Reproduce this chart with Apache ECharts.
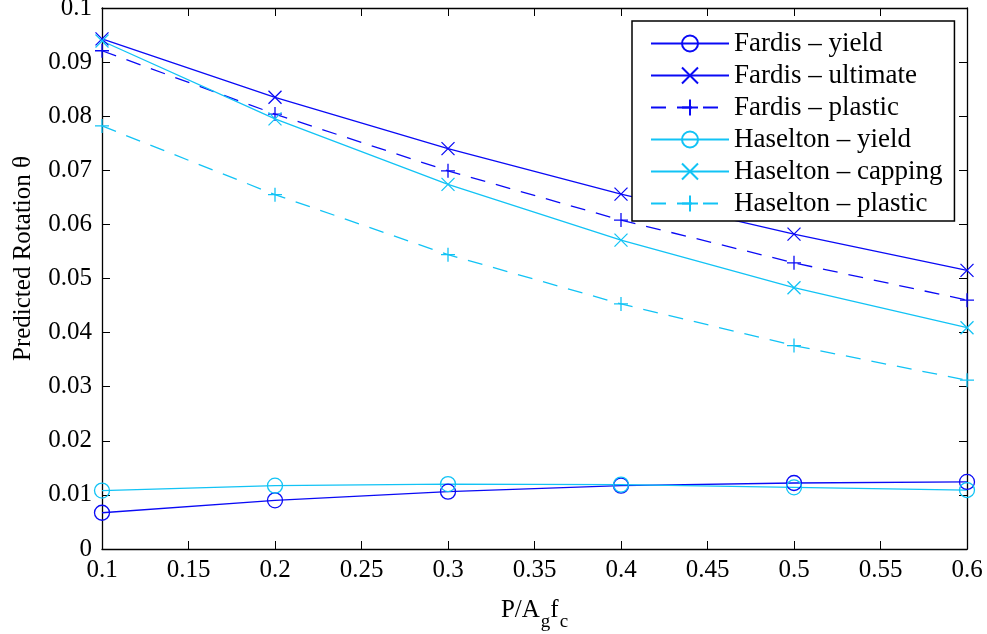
<!DOCTYPE html>
<html>
<head>
<meta charset="utf-8">
<script src="https://cdn.jsdelivr.net/npm/echarts@6/dist/echarts.min.js"></script>
<style>
  html, body { margin: 0; padding: 0; background: #fff; }
  #chart { width: 987px; height: 634px; }
</style>
</head>
<body>
<div id="chart"></div>
<script>
// axial load ratio P/(Ag fc)
const loadRatio = [0.1, 0.2, 0.3, 0.4, 0.5, 0.6];

// predicted rotations
const fardisYield    = [0.0067, 0.0090, 0.0106, 0.0117, 0.0122, 0.0124];
const fardisUltimate = [0.0943, 0.0835, 0.0740, 0.0656, 0.0582, 0.0515];
const fardisPlastic  = [0.0921, 0.0804, 0.0699, 0.0608, 0.0529, 0.0460];
const haseltonYield   = [0.0108, 0.0117, 0.0120, 0.0119, 0.0114, 0.0109];
const haseltonCapping = [0.0939, 0.0795, 0.0674, 0.0571, 0.0483, 0.0409];
const haseltonPlastic = [0.0782, 0.0655, 0.0544, 0.0453, 0.0376, 0.0312];

const FONT = '"Liberation Serif", "DejaVu Serif", serif';
const BLUE = '#0a0af5';
const CYAN = '#12c3f5';

const CROSS = 'path://M0,0L10,10M10,0L0,10';
const PLUS = 'path://M5,0L5,10M0,5L10,5';

function pairs(ys) {
    return loadRatio.map((x, i) => [x, ys[i]]);
}

function makeSeries(name, ys, color, symbol, size, dashed) {
    return {
        name: name,
        type: 'line',
        data: pairs(ys),
        symbol: symbol,
        symbolSize: size,
        showAllSymbol: true,
        lineStyle: { color: color, width: 1.3, type: dashed ? [15, 11] : 'solid' },
        itemStyle: { color: 'transparent', borderColor: color, borderWidth: 1.3 },
        emphasis: { disabled: true },
        animation: false,
        z: 3
    };
}

const fmt = v => String(parseFloat(v.toFixed(3)));

const tickStyle = { show: true, inside: true, length: 8, lineStyle: { color: '#000', width: 1 } };
const lineStyle = { show: true, onZero: false, lineStyle: { color: '#000', width: 1.3 } };

const chart = echarts.init(document.getElementById('chart'), null, { renderer: 'canvas' });

chart.setOption({
    animation: false,
    backgroundColor: '#fff',
    grid: { left: 102, right: 20, top: 8, bottom: 85, containLabel: false, outerBoundsMode: 'none' },
    xAxis: [{
        type: 'value', min: 0.1, max: 0.6, interval: 0.05,
        axisLine: lineStyle, axisTick: tickStyle, splitLine: { show: false },
        axisLabel: { formatter: fmt, color: '#000', fontFamily: FONT, fontSize: 25, margin: 9 },
        name: '{n|P/A}{s|g}{n|f}{s|c}',
        nameLocation: 'middle', nameGap: 40,
        nameTextStyle: {
            color: '#000', fontFamily: FONT, fontSize: 25,
            rich: {
                n: { fontFamily: FONT, fontSize: 25, color: '#000' },
                s: { fontFamily: FONT, fontSize: 19, color: '#000', padding: [24, 0, 0, 1] }
            }
        }
    }, {
        type: 'value', position: 'top', min: 0.1, max: 0.6, interval: 0.05,
        axisLine: lineStyle, axisTick: tickStyle, splitLine: { show: false },
        axisLabel: { show: false }
    }],
    yAxis: [{
        type: 'value', min: 0, max: 0.1, interval: 0.01,
        axisLine: lineStyle, axisTick: tickStyle, splitLine: { show: false },
        axisLabel: { formatter: fmt, color: '#000', fontFamily: FONT, fontSize: 25, margin: 10 },
        name: 'Predicted Rotation θ',
        nameLocation: 'middle', nameGap: 66, nameRotate: 90,
        nameTextStyle: { color: '#000', fontFamily: FONT, fontSize: 25, padding: [0, 0, 0, 40] }
    }, {
        type: 'value', position: 'right', min: 0, max: 0.1, interval: 0.01,
        axisLine: lineStyle, axisTick: tickStyle, splitLine: { show: false },
        axisLabel: { show: false }
    }],
    legend: {
        orient: 'vertical',
        left: 632, top: 21,
        padding: [9, 12, 4, 18],
        backgroundColor: '#fff',
        borderColor: '#000', borderWidth: 1.5,
        itemWidth: 78, itemHeight: 20, itemGap: 5,
        textStyle: { color: '#000', fontFamily: FONT, fontSize: 27, lineHeight: 20 },
        selectedMode: false,
        data: ['Fardis – yield', 'Fardis – ultimate', 'Fardis – plastic',
               'Haselton – yield', 'Haselton – capping', 'Haselton – plastic']
    },
    series: [
        makeSeries('Fardis – yield', fardisYield, BLUE, 'circle', 15, false),
        makeSeries('Fardis – ultimate', fardisUltimate, BLUE, CROSS, 13, false),
        makeSeries('Fardis – plastic', fardisPlastic, BLUE, PLUS, 14, true),
        makeSeries('Haselton – yield', haseltonYield, CYAN, 'circle', 15, false),
        makeSeries('Haselton – capping', haseltonCapping, CYAN, CROSS, 13, false),
        makeSeries('Haselton – plastic', haseltonPlastic, CYAN, PLUS, 14, true)
    ]
});
</script>
</body>
</html>
